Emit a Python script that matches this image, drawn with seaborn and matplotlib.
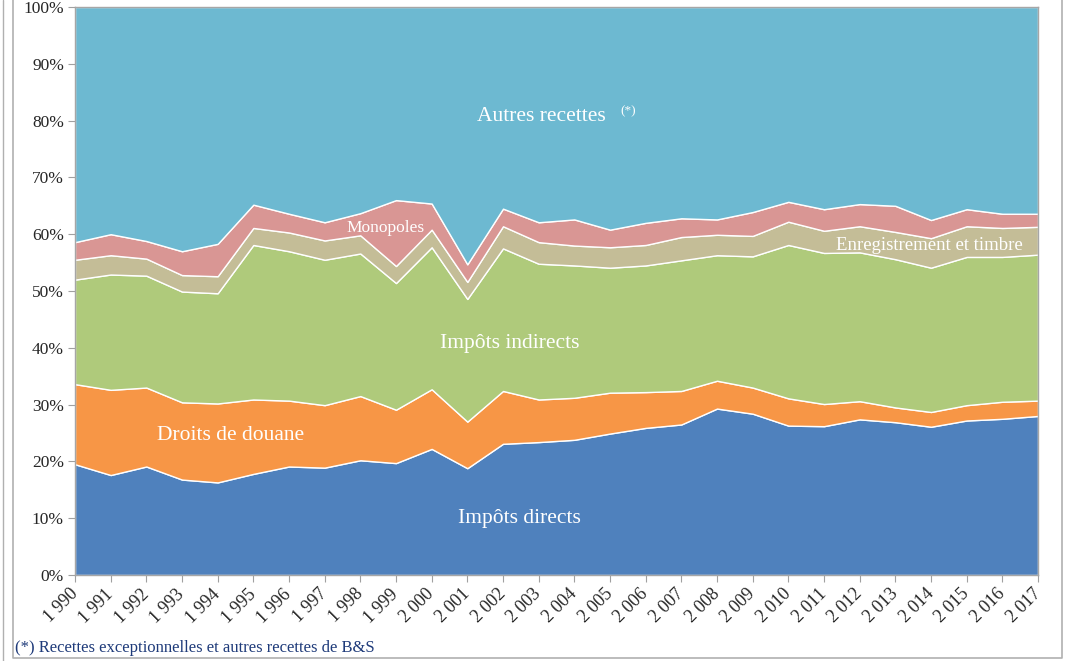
import matplotlib
matplotlib.use("Agg")
import matplotlib.pyplot as plt
import seaborn as sns
import numpy as np
from matplotlib.lines import Line2D
from matplotlib.ticker import PercentFormatter

# parts de chaque recette dans le total (%)
years = list(range(1990, 2018))
impots_directs = [19.5, 17.6, 19.1, 16.8, 16.3, 17.8, 19.1, 18.9, 20.2, 19.7, 22.2, 18.8, 23.1, 23.4,
                  23.8, 24.9, 25.9, 26.5, 29.3, 28.4, 26.3, 26.2, 27.4, 26.9, 26.1, 27.2, 27.5, 28.0]
droits_douane = [14.1, 15.0, 13.9, 13.6, 13.9, 13.1, 11.6, 11.0, 11.3, 9.4, 10.5, 8.2, 9.3, 7.5,
                 7.4, 7.2, 6.3, 5.9, 4.9, 4.6, 4.8, 3.9, 3.2, 2.6, 2.6, 2.7, 3.0, 2.7]
impots_indirects = [18.4, 20.3, 19.7, 19.5, 19.4, 27.2, 26.3, 25.6, 25.1, 22.3, 25.0, 21.6, 25.1, 23.9,
                    23.3, 22.0, 22.3, 23.0, 22.1, 23.1, 27.0, 26.6, 26.2, 26.1, 25.4, 26.1, 25.5, 25.7]
enregistrement = [3.5, 3.4, 3.0, 2.9, 3.0, 3.0, 3.3, 3.4, 3.2, 3.0, 3.1, 3.0, 3.9, 3.8,
                  3.5, 3.6, 3.6, 4.1, 3.6, 3.6, 4.1, 3.9, 4.6, 4.8, 5.2, 5.4, 5.1, 4.9]
monopoles = [3.1, 3.7, 3.1, 4.2, 5.7, 4.1, 3.3, 3.2, 3.9, 11.6, 4.6, 3.1, 3.1, 3.5,
             4.6, 3.1, 3.9, 3.3, 2.7, 4.2, 3.5, 3.8, 3.9, 4.6, 3.2, 3.0, 2.5, 2.3]
autres_recettes = [41.4, 40.0, 41.2, 43.0, 41.7, 34.8, 36.4, 37.9, 36.3, 34.0, 34.6, 45.3, 35.5, 37.9,
                   37.4, 39.2, 38.0, 37.2, 37.4, 36.1, 34.3, 35.6, 34.7, 35.0, 37.5, 35.6, 36.4, 36.4]
year_labels = [f"{y:,}".replace(",", " ") for y in years]

colors = ["#4F81BD", "#F79646", "#AFCA7B", "#C4BD97", "#D99694", "#6DB9D1"]

sns.set_style("white")
plt.rcParams["font.family"] = ["Liberation Serif", "DejaVu Serif"]

fig = plt.figure(figsize=(10.67, 6.61), dpi=100)
ax = fig.add_axes([75 / 1067, 1 - 575 / 661, 963 / 1067, 568 / 661])

series = np.array([impots_directs, droits_douane, impots_indirects,
                   enregistrement, monopoles, autres_recettes])
series = series / series.sum(axis=0) * 100
ax.stackplot(years, series, colors=colors, edgecolor="white", linewidth=1.0)

ax.set_xlim(years[0], years[-1])
ax.set_ylim(0, 100)
ax.set_yticks(range(0, 101, 10))
ax.yaxis.set_major_formatter(PercentFormatter(decimals=0))
ax.set_xticks(years)
ax.set_xticklabels(year_labels, rotation=45, ha="right", va="center",
                   rotation_mode="anchor", fontsize=13)
ax.tick_params(axis="y", labelsize=12.5, length=5, color="#A0A0A0", pad=3)
ax.tick_params(axis="x", length=5, color="#A0A0A0", pad=7, bottom=True)
ax.tick_params(axis="y", left=True)
for s in ax.spines.values():
    s.set_color("#A6A6A6")
    s.set_linewidth(1.0)

# étiquettes des zones
lab = dict(color="white", ha="center", va="center")
ax.text(2003.07, 80.8, "Autres recettes", fontsize=15.5, **lab)
ax.text(2005.5, 81.6, "(*)", fontsize=9.5, **lab)
ax.text(1998.7, 61.1, "Monopoles", fontsize=12.5, **lab)
ax.text(2013.95, 58.0, "Enregistrement et timbre", fontsize=13.5, **lab)
ax.text(2002.2, 40.8, "Impôts indirects", fontsize=15.5, **lab)
ax.text(1994.35, 24.5, "Droits de douane", fontsize=15.5, **lab)
ax.text(2002.45, 9.9, "Impôts directs", fontsize=15.5, **lab)

fig.text(15 / 1067, 1 - 648 / 661, "(*) Recettes exceptionnelles et autres recettes de B&S",
         fontsize=12, color="#1F3B7A", ha="left", va="center")

# cadre du graphique
fc = "#B0B0B0"
fig.add_artist(Line2D([3 / 1067, 3 / 1067], [0, 1], transform=fig.transFigure, color=fc, lw=1))
fig.add_artist(Line2D([13 / 1067, 13 / 1067, 1062 / 1067, 1062 / 1067],
                      [1, 1 - 658 / 661, 1 - 658 / 661, 1],
                      transform=fig.transFigure, color=fc, lw=1.2))

fig.savefig("out.png", dpi=100)
